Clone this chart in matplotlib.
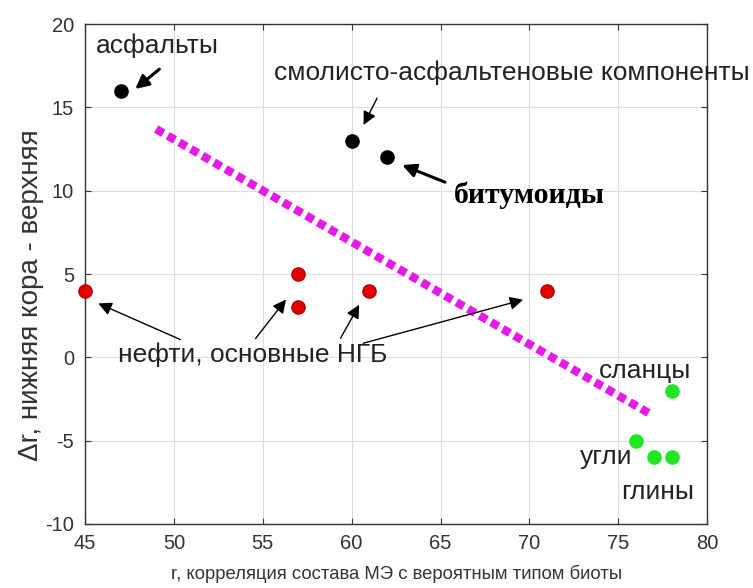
import matplotlib
matplotlib.use("Agg")
import matplotlib.pyplot as plt
import numpy as np

plt.rcParams['font.family'] = ['Liberation Sans', 'DejaVu Sans']
plt.rcParams['axes.unicode_minus'] = False

# асфальты, смолисто-асфальтеновые компоненты, битумоиды
black_x = [47, 60, 62]
black_y = [16, 13, 12]

# нефти, основные НГБ
red_x = [45, 57, 57, 61, 71]
red_y = [4, 5, 3, 4, 4]

# сланцы, угли, глины
green_x = [78, 76, 77, 78]
green_y = [-2, -5, -6, -6]

trend_x = [49, 76.8]
trend_y = [13.7, -3.4]

x_ticks = [45, 50, 55, 60, 65, 70, 75, 80]
y_ticks = [-10, -5, 0, 5, 10, 15, 20]

fig = plt.figure(figsize=(7.53, 5.88), dpi=100)
ax = fig.add_axes([0.113, 0.109, 0.826, 0.850])

ax.grid(True, color='#dcdcdc', linewidth=0.8)
ax.set_axisbelow(True)

ax.plot(trend_x, trend_y, linestyle=(0, (1.0, 0.6)), color='#e619e6', linewidth=6, zorder=2)

ax.plot(black_x, black_y, 'o', color='black', markersize=9.5, zorder=3, clip_on=False)
ax.plot(red_x, red_y, 'o', color='#e60000', markeredgecolor='#b00000', markersize=9.5, zorder=3, clip_on=False)
ax.plot(green_x, green_y, 'o', color='#22e622', markersize=9.5, zorder=3, clip_on=False)

ax.set_xlim(45, 80)
ax.set_ylim(-10, 20)
ax.set_xticks(x_ticks)
ax.set_yticks(y_ticks)
ax.tick_params(direction='in', top=True, right=True, length=4, labelsize=14.5, colors='#333333')
ax.tick_params(axis='y', pad=8)
ax.tick_params(axis='x', pad=7)
for side in ax.spines.values():
    side.set_color('#333333')
    side.set_linewidth(1.0)

ax.set_xlabel("r, корреляция состава МЭ с вероятным типом биоты", fontsize=13.3, color='#333333', labelpad=9)
ax.set_ylabel("Δr, нижняя кора - верхняя", fontsize=20, color='#333333')
ax.yaxis.set_label_coords(-0.066, 0.458)

arrow = dict(arrowstyle='-|>', color='black', lw=1.0, mutation_scale=20)
arrow_bold = dict(arrowstyle='-|>', color='black', lw=2.2, mutation_scale=20)

ax.text(49.05, 18.7, "асфальты", fontsize=19, ha='center', va='center', color='#222222')
ax.annotate("", xy=(47.7, 16.0), xytext=(49.3, 17.4), arrowprops=arrow_bold)

ax.text(69.0, 17.1, "смолисто-асфальтеновые компоненты", fontsize=19, ha='center', va='center', color='#222222')
ax.annotate("", xy=(60.6, 13.8), xytext=(61.5, 15.7), arrowprops=arrow)

ax.text(70.0, 9.75, "битумоиды", fontsize=21.5, ha='center', va='center', fontweight='bold',
        family=['Liberation Serif', 'DejaVu Serif'])
ax.annotate("", xy=(62.7, 11.6), xytext=(65.4, 10.45), arrowprops=arrow_bold)

ax.text(54.45, 0.15, "нефти, основные НГБ", fontsize=19, ha='center', va='center', color='#222222')
ax.annotate("", xy=(45.6, 3.3), xytext=(50.5, 1.0), arrowprops=arrow)
ax.annotate("", xy=(56.4, 3.6), xytext=(54.5, 1.0), arrowprops=arrow)
ax.annotate("", xy=(60.5, 3.3), xytext=(59.3, 1.0), arrowprops=arrow)
ax.annotate("", xy=(69.8, 3.5), xytext=(60.5, 0.8), arrowprops=arrow)

ax.text(76.5, -0.8, "сланцы", fontsize=19, ha='center', va='center', color='#222222')
ax.text(74.3, -6.0, "угли", fontsize=19, ha='center', va='center', color='#222222')
ax.text(77.2, -8.1, "глины", fontsize=19, ha='center', va='center', color='#222222')

fig.savefig("out.png", dpi=100)
